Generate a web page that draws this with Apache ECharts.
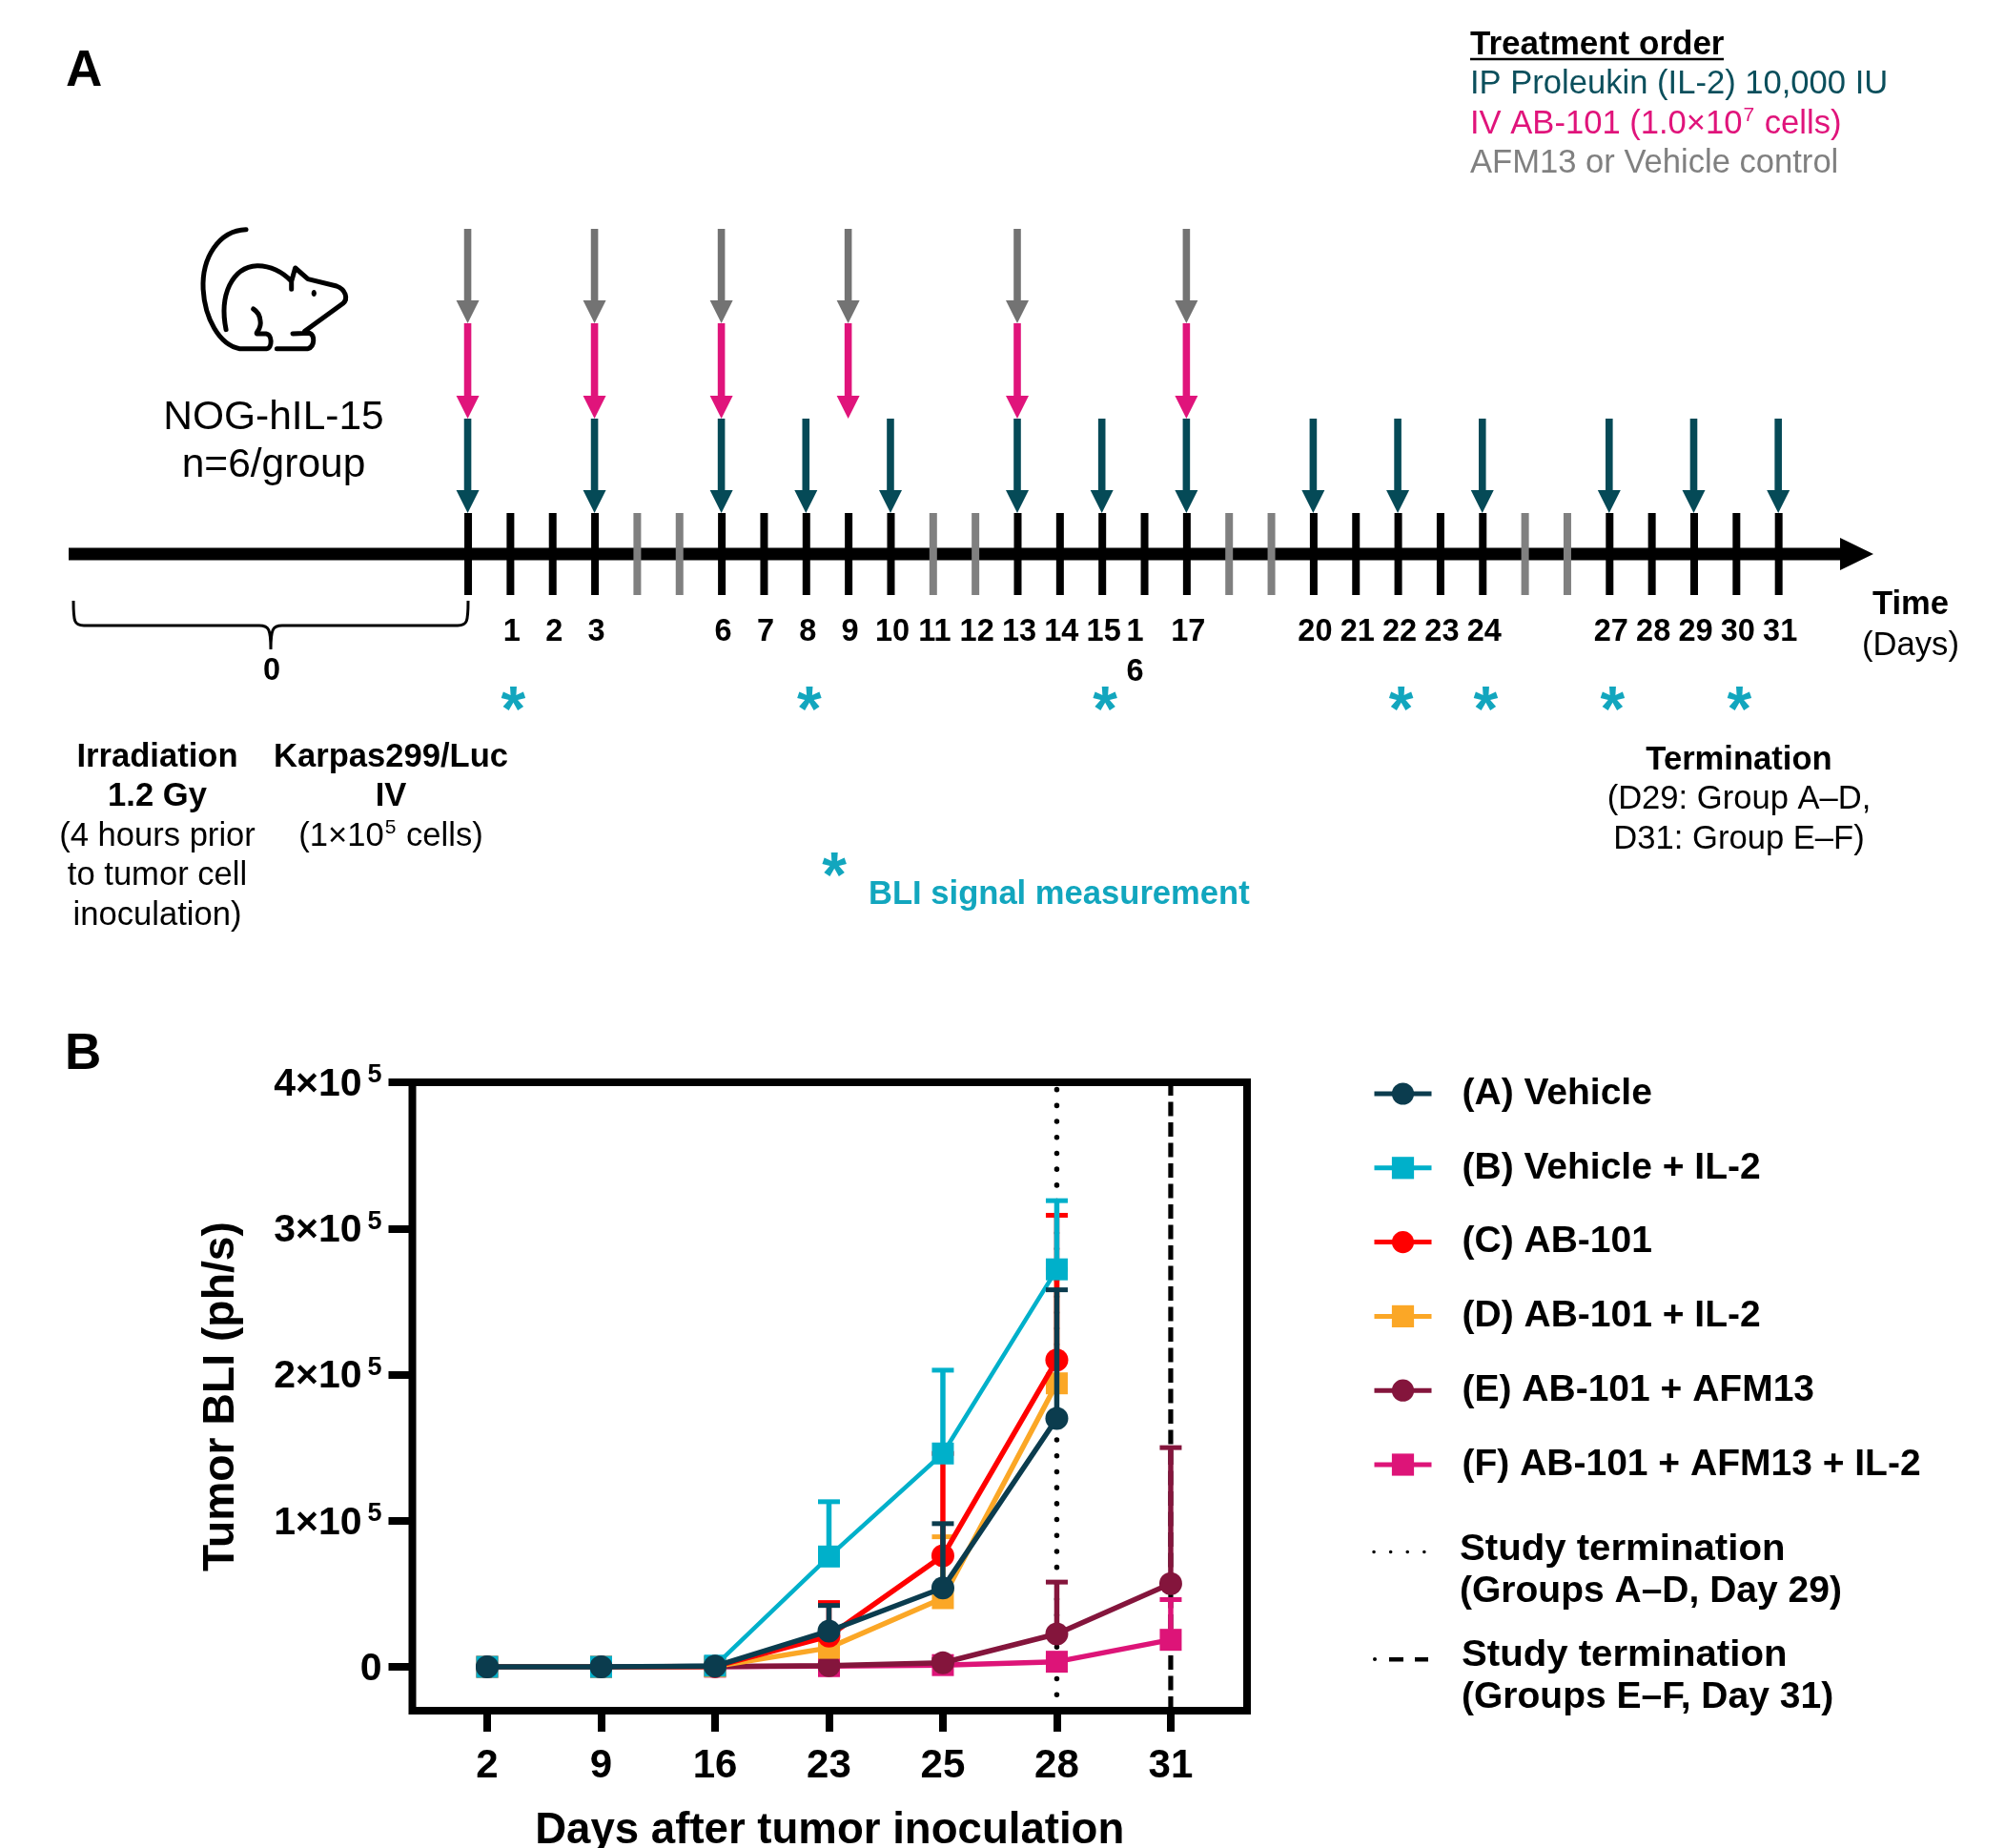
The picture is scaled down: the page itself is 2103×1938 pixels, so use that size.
<!DOCTYPE html>
<html>
<head>
<meta charset="utf-8">
<title>Study schedule and tumor BLI</title>
<script src="https://cdn.jsdelivr.net/npm/echarts@6/dist/echarts.min.js"></script>
<style>html,body{margin:0;padding:0;background:#fff}#c{width:2103px;height:1938px}</style>
</head>
<body>
<div id="c"></div>
<script>
// ---------- Panel A data ----------
const ivAfmDays = [0, 3, 6, 9, 13, 17];
const ivCellDays = [0, 3, 6, 9, 13, 17];
const ipDays = [0, 3, 6, 8, 10, 13, 15, 17, 20, 22, 24, 27, 29, 31];
const activeDays = [0, 1, 2, 3, 6, 7, 8, 9, 10, 13, 14, 15, 16, 17, 20, 21, 22, 23, 24, 27, 28, 29, 30, 31];
const restDays = [4, 5, 11, 12, 18, 19, 25, 26];
const labelDays = [1, 2, 3, 6, 7, 8, 9, 10, 11, 12, 13, 14, 15, 16, 17, 20, 21, 22, 23, 24, 27, 28, 29, 30, 31];
const bliDays = [1, 8, 15, 22, 24, 27, 30];
const timelineStart = -9.45;
const timelineEnd = 33.24;

// ---------- Panel B data ----------
const dayCategories = ['2', '9', '16', '23', '25', '28', '31'];
const yTicks = [0, 100000, 200000, 300000, 400000];
const yTickMantissa = ['0', '1', '2', '3', '4'];
const groupNames = ['(A) Vehicle', '(B) Vehicle + IL-2', '(C) AB-101', '(D) AB-101 + IL-2', '(E) AB-101 + AFM13', '(F) AB-101 + AFM13 + IL-2'];
const vehicleMean = [0, 0, 500, 24500, 54000, 170000, null];
const vehicleUpper = [0, 0, 500, 42000, 98000, 258000, null];
const vehicleIl2Mean = [0, 0, 800, 75500, 146000, 272000, null];
const vehicleIl2Upper = [0, 0, 800, 113000, 203000, 319000, null];
const ab101Mean = [0, 0, 300, 21000, 76000, 210000, null];
const ab101Upper = [0, 0, 300, 44000, 146000, 309000, null];
const ab101Il2Mean = [0, 0, 300, 13000, 47000, 194000, null];
const ab101Il2Upper = [0, 0, 300, 22000, 89000, 272000, null];
const afmMean = [0, 0, 200, 800, 2800, 22500, 57000];
const afmUpper = [0, 0, 200, 1500, 5000, 58000, 150000];
const afmIl2Mean = [0, 0, 100, 500, 1200, 3500, 18500];
const afmIl2Upper = [0, 0, 100, 800, 2000, 6000, 46000];
const terminationDotted = 5;
const terminationDashed = 6;

const FONT = '"Liberation Sans", Arial, sans-serif';
const TEAL = '#054A57', PINK = '#E0147B', GREY = '#737373', CYAN = '#12A6BE';

const groups = [
  {name: groupNames[5], mean: afmIl2Mean, upper: afmIl2Upper, color: '#DD1478', symbol: 'rect', size: 23, lw: 5.5},
  {name: groupNames[4], mean: afmMean, upper: afmUpper, color: '#84153C', symbol: 'circle', size: 24, lw: 5.5},
  {name: groupNames[3], mean: ab101Il2Mean, upper: ab101Il2Upper, color: '#FBA726', symbol: 'rect', size: 23, lw: 5.5},
  {name: groupNames[2], mean: ab101Mean, upper: ab101Upper, color: '#FF0000', symbol: 'circle', size: 24, lw: 5.5},
  {name: groupNames[1], mean: vehicleIl2Mean, upper: vehicleIl2Upper, color: '#00B0CA', symbol: 'rect', size: 23, lw: 4.5},
  {name: groupNames[0], mean: vehicleMean, upper: vehicleUpper, color: '#0B3C4E', symbol: 'circle', size: 24, lw: 5.5}
];

// ---------- helpers ----------
function txt(x, y, text, o) {
  o = o || {};
  return {type: 'text', z: 50, x: x, y: y + 2.5, scaleX: o.sx || 1, style: {
    text: text, fontFamily: FONT, fontSize: o.size || 34.6, fontWeight: o.bold ? 'bold' : 'normal',
    fill: o.color || '#000', align: o.align || 'center', verticalAlign: 'middle', rich: o.rich, lineHeight: o.lh
  }};
}
function supRich(size, supSize, color, bold) {
  const w = bold ? 'bold' : 'normal';
  return {
    n: {fontFamily: FONT, fontSize: size, fontWeight: w, fill: color, color: color, lineHeight: size * 1.15},
    s: {fontFamily: FONT, fontSize: supSize, fontWeight: w, fill: color, color: color, verticalAlign: 'top', lineHeight: size * 1.15, padding: [0, 1, 0, 1]}
  };
}

function arrowSeries(days, color, topLane, bottomLane) {
  return {
    type: 'custom', xAxisIndex: 1, yAxisIndex: 1, silent: true, clip: false, z: 6,
    data: days.map(d => [d, bottomLane]),
    renderItem: function (params, api) {
      const p = api.coord([api.value(0), bottomLane]);
      const t = api.coord([api.value(0), topLane]);
      const x = p[0] - 0.5, tip = p[1], top = t[1];
      return {type: 'group', children: [
        {type: 'rect', shape: {x: x - 3.8, y: top, width: 7.6, height: tip - top - 20}, style: {fill: color}},
        {type: 'polygon', shape: {points: [[x - 12, tip - 24], [x + 12, tip - 24], [x, tip]]}, style: {fill: color}}
      ]};
    }
  };
}
function tickSeries(days, color, z) {
  return {
    type: 'custom', xAxisIndex: 1, yAxisIndex: 1, silent: true, clip: false, z: z,
    data: days.map(d => [d, 581]),
    renderItem: function (params, api) {
      const a = api.coord([api.value(0), 538]);
      const b = api.coord([api.value(0), 624]);
      return {type: 'rect', shape: {x: a[0] - 4, y: a[1], width: 8, height: b[1] - a[1]}, style: {fill: color}};
    }
  };
}

const series = [];

// timeline shaft + arrowhead
series.push({
  type: 'custom', xAxisIndex: 1, yAxisIndex: 1, silent: true, clip: false, z: 3,
  data: [[timelineStart, 581]],
  renderItem: function (params, api) {
    const a = api.coord([timelineStart, 581]);
    const b = api.coord([timelineEnd, 581]);
    return {type: 'group', children: [
      {type: 'rect', shape: {x: a[0], y: a[1] - 6.5, width: b[0] - a[0] - 30, height: 13}, style: {fill: '#000'}},
      {type: 'polygon', shape: {points: [[b[0] - 35, a[1] - 17], [b[0], a[1]], [b[0] - 35, a[1] + 17]]}, style: {fill: '#000'}}
    ]};
  }
});
series.push(tickSeries(activeDays, '#000', 4));
series.push(tickSeries(restDays, '#808080', 4));
series.push(arrowSeries(ivAfmDays, GREY, 240, 339));
series.push(arrowSeries(ivCellDays, PINK, 339, 439));
series.push(arrowSeries(ipDays, TEAL, 439, 538));

// day labels
series.push({
  type: 'custom', xAxisIndex: 1, yAxisIndex: 1, silent: true, clip: false, z: 7,
  data: labelDays.map(d => [d, 663]),
  renderItem: function (params, api) {
    const day = api.value(0);
    const p = api.coord([day, 663]);
    const base = {fontFamily: FONT, fontSize: 32.5, fontWeight: 'bold', fill: '#000', align: 'center', verticalAlign: 'middle'};
    if (day === 16) {
      return {type: 'group', children: [
        {type: 'text', style: Object.assign({}, base, {text: '1', x: p[0] - 10, y: p[1]})},
        {type: 'text', style: Object.assign({}, base, {text: '6', x: p[0] - 10, y: p[1] + 42})}
      ]};
    }
    return {type: 'text', style: Object.assign({}, base, {text: String(day), x: p[0] + 1.5, y: p[1]})};
  }
});
// BLI asterisks
series.push({
  type: 'custom', xAxisIndex: 1, yAxisIndex: 1, silent: true, clip: false, z: 7,
  data: bliDays.map(d => [d, 733]),
  renderItem: function (params, api) {
    const p = api.coord([api.value(0), 733]);
    return {type: 'text', style: {text: '*', x: p[0] + 3, y: p[1] + 15, fontFamily: FONT, fontSize: 66, fontWeight: 'bold', fill: CYAN, align: 'center', verticalAlign: 'middle'}};
  }
});
// mouse + brace line art
series.push({
  type: 'custom', coordinateSystem: 'none', silent: true, z: 7, data: [0],
  renderItem: function () {
    const ink = {fill: 'none', stroke: '#000', lineWidth: 5, lineCap: 'round', lineJoin: 'round'};
    return {type: 'group', children: [
      {type: 'path', shape: {
        pathData: 'M235,62 C150,65 95,150 100,250 C105,340 150,425 215,437 L300,437 C318,435 318,392 298,390 L270,390 C262,388 285,375 280,350 C278,330 268,318 258,312 ' +
                  'M172,377 C150,270 190,180 270,176 C310,175 350,195 378,225 L378,250 M378,225 L390,183 L430,218 L520,240 C548,250 558,280 540,295 L420,382 ' +
                  'M382,390 L435,388 C452,395 452,430 430,437 L332,437',
        x: 180 + 99 / 3, y: 220 + 62 / 3, width: 449 / 3, height: 375 / 3, layout: 'cover'
      }, style: ink},
      {type: 'ellipse', shape: {cx: 329.3, cy: 307.5, rx: 2.6, ry: 3.6}, style: {fill: '#000'}},
      {type: 'path', shape: {
        pathData: 'M77,630 C77,652 78,656 88,656 L272,656 C282,656 284,660 284,681 C284,660 286,656 296,656 L480,656 C490,656 491,652 491,630',
        x: 77, y: 630, width: 414, height: 51, layout: 'cover'
      }, style: {fill: 'none', stroke: '#000', lineWidth: 3}}
    ]};
  }
});

// termination reference lines
series.push({
  type: 'line', name: 'Study termination (Groups A–D, Day 29)', xAxisIndex: 0, yAxisIndex: 0, silent: true, z: 3, symbol: 'none',
  data: [[terminationDotted, -30000], [terminationDotted, 400000]],
  lineStyle: {color: '#000', width: 5.5, type: [0.1, 16.6], cap: 'round'}
});
series.push({
  type: 'line', name: 'Study termination (Groups E–F, Day 31)', xAxisIndex: 0, yAxisIndex: 0, silent: true, z: 3, symbol: 'none',
  data: [[terminationDashed, -30000], [terminationDashed, 400000]],
  lineStyle: {color: '#000', width: 5.2, type: [15, 6.5]}
});

// group curves with upper error bars
groups.forEach(function (g, i) {
  const idxMean = g.mean.map((v, k) => [k, v]).filter(r => r[1] !== null);
  series.push({
    type: 'custom', name: g.name + ' error', xAxisIndex: 0, yAxisIndex: 0, silent: true, clip: false, z: 10 + i * 2,
    data: g.upper.map((u, k) => [k, g.mean[k], u]).filter(r => r[1] !== null),
    renderItem: function (params, api) {
      const low = api.coord([api.value(0), api.value(1)]);
      const up = api.coord([api.value(0), api.value(2)]);
      return {type: 'group', children: [
        {type: 'line', shape: {x1: low[0], y1: low[1], x2: up[0], y2: up[1]}, style: {stroke: g.color, lineWidth: 5.5}},
        {type: 'line', shape: {x1: up[0] - 11.5, y1: up[1], x2: up[0] + 11.5, y2: up[1]}, style: {stroke: g.color, lineWidth: 5}}
      ]};
    }
  });
  series.push({
    type: 'line', name: g.name, xAxisIndex: 0, yAxisIndex: 0, silent: true, z: 11 + i * 2,
    data: idxMean, symbol: g.symbol, symbolSize: g.size, showSymbol: true,
    lineStyle: {color: g.color, width: g.lw}, itemStyle: {color: g.color}
  });
});

const option = {
  animation: false,
  backgroundColor: '#fff',
  textStyle: {fontFamily: FONT},
  grid: [
    {left: 432.5, top: 1135, width: 875.5, height: 659, show: true, borderColor: '#000', borderWidth: 8, backgroundColor: 'transparent', containLabel: false, outerBoundsMode: 'none'},
    {left: 72, top: 0, width: 1893, height: 1000, show: false, outerBoundsMode: 'none'}
  ],
  xAxis: [
    {
      type: 'value', gridIndex: 0, min: -0.657, max: 6.67, splitLine: {show: false},
      axisLine: {show: false, onZero: false},
      axisTick: {show: true, length: 22, inside: false, customValues: [0, 1, 2, 3, 4, 5, 6], lineStyle: {color: '#000', width: 8}},
      axisLabel: {show: true, margin: 37.5, fontFamily: FONT, fontSize: 42, fontWeight: 'bold', color: '#000', customValues: [0, 1, 2, 3, 4, 5, 6], hideOverlap: false,
        formatter: function (v) { return dayCategories[Math.round(v)]; }},
      name: 'Days after tumor inoculation', nameLocation: 'middle', nameGap: 126,
      nameTextStyle: {fontFamily: FONT, fontSize: 45.6, fontWeight: 'bold', color: '#000', verticalAlign: 'middle'}
    },
    {type: 'value', gridIndex: 1, min: timelineStart, max: timelineEnd, show: false, splitLine: {show: false}}
  ],
  yAxis: [
    {
      type: 'value', gridIndex: 0, min: -30000, max: 400000, splitLine: {show: false},
      axisLine: {show: false, onZero: false},
      axisTick: {show: true, length: 25, customValues: yTicks, lineStyle: {color: '#000', width: 8}},
      axisLabel: {show: true, margin: 32, customValues: yTicks, hideOverlap: false, align: 'right', verticalAlign: 'middle', padding: [5, 0, 0, 0],
        formatter: function (v) {
          const m = yTickMantissa[yTicks.indexOf(v)];
          return v === 0 ? '{n|0}' : '{n|' + m + '×10}{s|5}';
        },
        rich: {
          n: {fontFamily: FONT, fontSize: 41, fontWeight: 'bold', color: '#000', lineHeight: 46},
          s: {fontFamily: FONT, fontSize: 27, fontWeight: 'bold', color: '#000', verticalAlign: 'top', lineHeight: 46, padding: [0, 0, 0, 6]}
        }},
      name: 'Tumor BLI (ph/s)', nameLocation: 'middle', nameGap: 200, nameRotate: 90,
      nameTextStyle: {fontFamily: FONT, fontSize: 46.3, fontWeight: 'bold', color: '#000', verticalAlign: 'middle'}
    },
    {type: 'value', gridIndex: 1, min: 0, max: 1000, inverse: true, show: false, splitLine: {show: false}}
  ],
  legend: {
    data: groupNames,
    orient: 'vertical', left: 1434, top: 1122.5, itemWidth: 60, itemHeight: 29, itemGap: 38.8, selectedMode: false,
    lineStyle: {width: 5},
    textStyle: {fontFamily: FONT, fontSize: 39, fontWeight: 'bold', color: '#000', lineHeight: 38, padding: [0, 0, 0, 27]}
  },
  series: series,
  graphic: {elements: [
    txt(69, 73, 'A', {size: 53, bold: true, align: 'left'}),
    txt(68, 1104, 'B', {size: 53, bold: true, align: 'left'}),
    txt(1542, 45, 'Treatment order', {size: 35, bold: true, align: 'left'}),
    {type: 'line', z: 50, shape: {x1: 1542, y1: 62, x2: 1808, y2: 62}, style: {stroke: '#000', lineWidth: 2.5}},
    txt(1542, 86, 'IP Proleukin (IL-2) 10,000 IU', {color: '#0B4F5C', align: 'left'}),
    txt(1542, 128, '{n|IV AB-101 (1.0×10}{s|7}{n| cells)}', {color: PINK, align: 'left', rich: supRich(34.6, 21, PINK)}),
    txt(1542, 169, 'AFM13 or Vehicle control', {color: '#808080', align: 'left'}),
    txt(287, 436, 'NOG-hIL-15', {size: 42.5}),
    txt(287, 486, 'n=6/group', {size: 42.5}),
    txt(285, 702, '0', {size: 32.5, bold: true}),
    txt(165, 792, 'Irradiation', {bold: true}),
    txt(165, 833, '1.2 Gy', {bold: true}),
    txt(165, 875, '(4 hours prior'),
    txt(165, 916, 'to tumor cell'),
    txt(165, 958, 'inoculation)'),
    txt(410, 792, 'Karpas299/Luc', {bold: true}),
    txt(410, 833, 'IV', {bold: true}),
    txt(410, 875, '{n|(1×10}{s|5}{n| cells)}', {rich: supRich(34.6, 21, '#000')}),
    txt(1824, 795, 'Termination', {bold: true}),
    txt(1824, 836, '(D29: Group A–D,'),
    txt(1824, 878, 'D31: Group E–F)'),
    txt(2004, 632, 'Time', {bold: true}),
    txt(2004, 675, '(Days)'),
    txt(875, 919, '*', {size: 66, bold: true, color: CYAN}),
    txt(911, 936, 'BLI signal measurement', {size: 34.6, bold: true, color: CYAN, align: 'left'}),
    // study termination key
    {type: 'line', z: 50, shape: {x1: 1441, y1: 1627.5, x2: 1496, y2: 1627.5}, style: {stroke: '#000', lineWidth: 3.5, lineCap: 'round', lineDash: [0.1, 17.5]}},
    txt(1531, 1623, 'Study termination', {size: 39, bold: true, align: 'left', sx: 1.03}),
    txt(1531, 1667, '(Groups A–D, Day 29)', {size: 39, bold: true, align: 'left'}),
    {type: 'circle', z: 50, shape: {cx: 1442, cy: 1740, r: 2}, style: {fill: '#000'}},
    {type: 'rect', z: 50, shape: {x: 1457, y: 1738, width: 15, height: 4.5}, style: {fill: '#000'}},
    {type: 'rect', z: 50, shape: {x: 1484, y: 1738, width: 14, height: 4.5}, style: {fill: '#000'}},
    txt(1533, 1734, 'Study termination', {size: 39, bold: true, align: 'left', sx: 1.03}),
    txt(1533, 1778, '(Groups E–F, Day 31)', {size: 39, bold: true, align: 'left'})
  ]}
};

const chart = echarts.init(document.getElementById('c'), null, {width: 2103, height: 1938, renderer: 'canvas'});
chart.setOption(option);
</script>
</body>
</html>
